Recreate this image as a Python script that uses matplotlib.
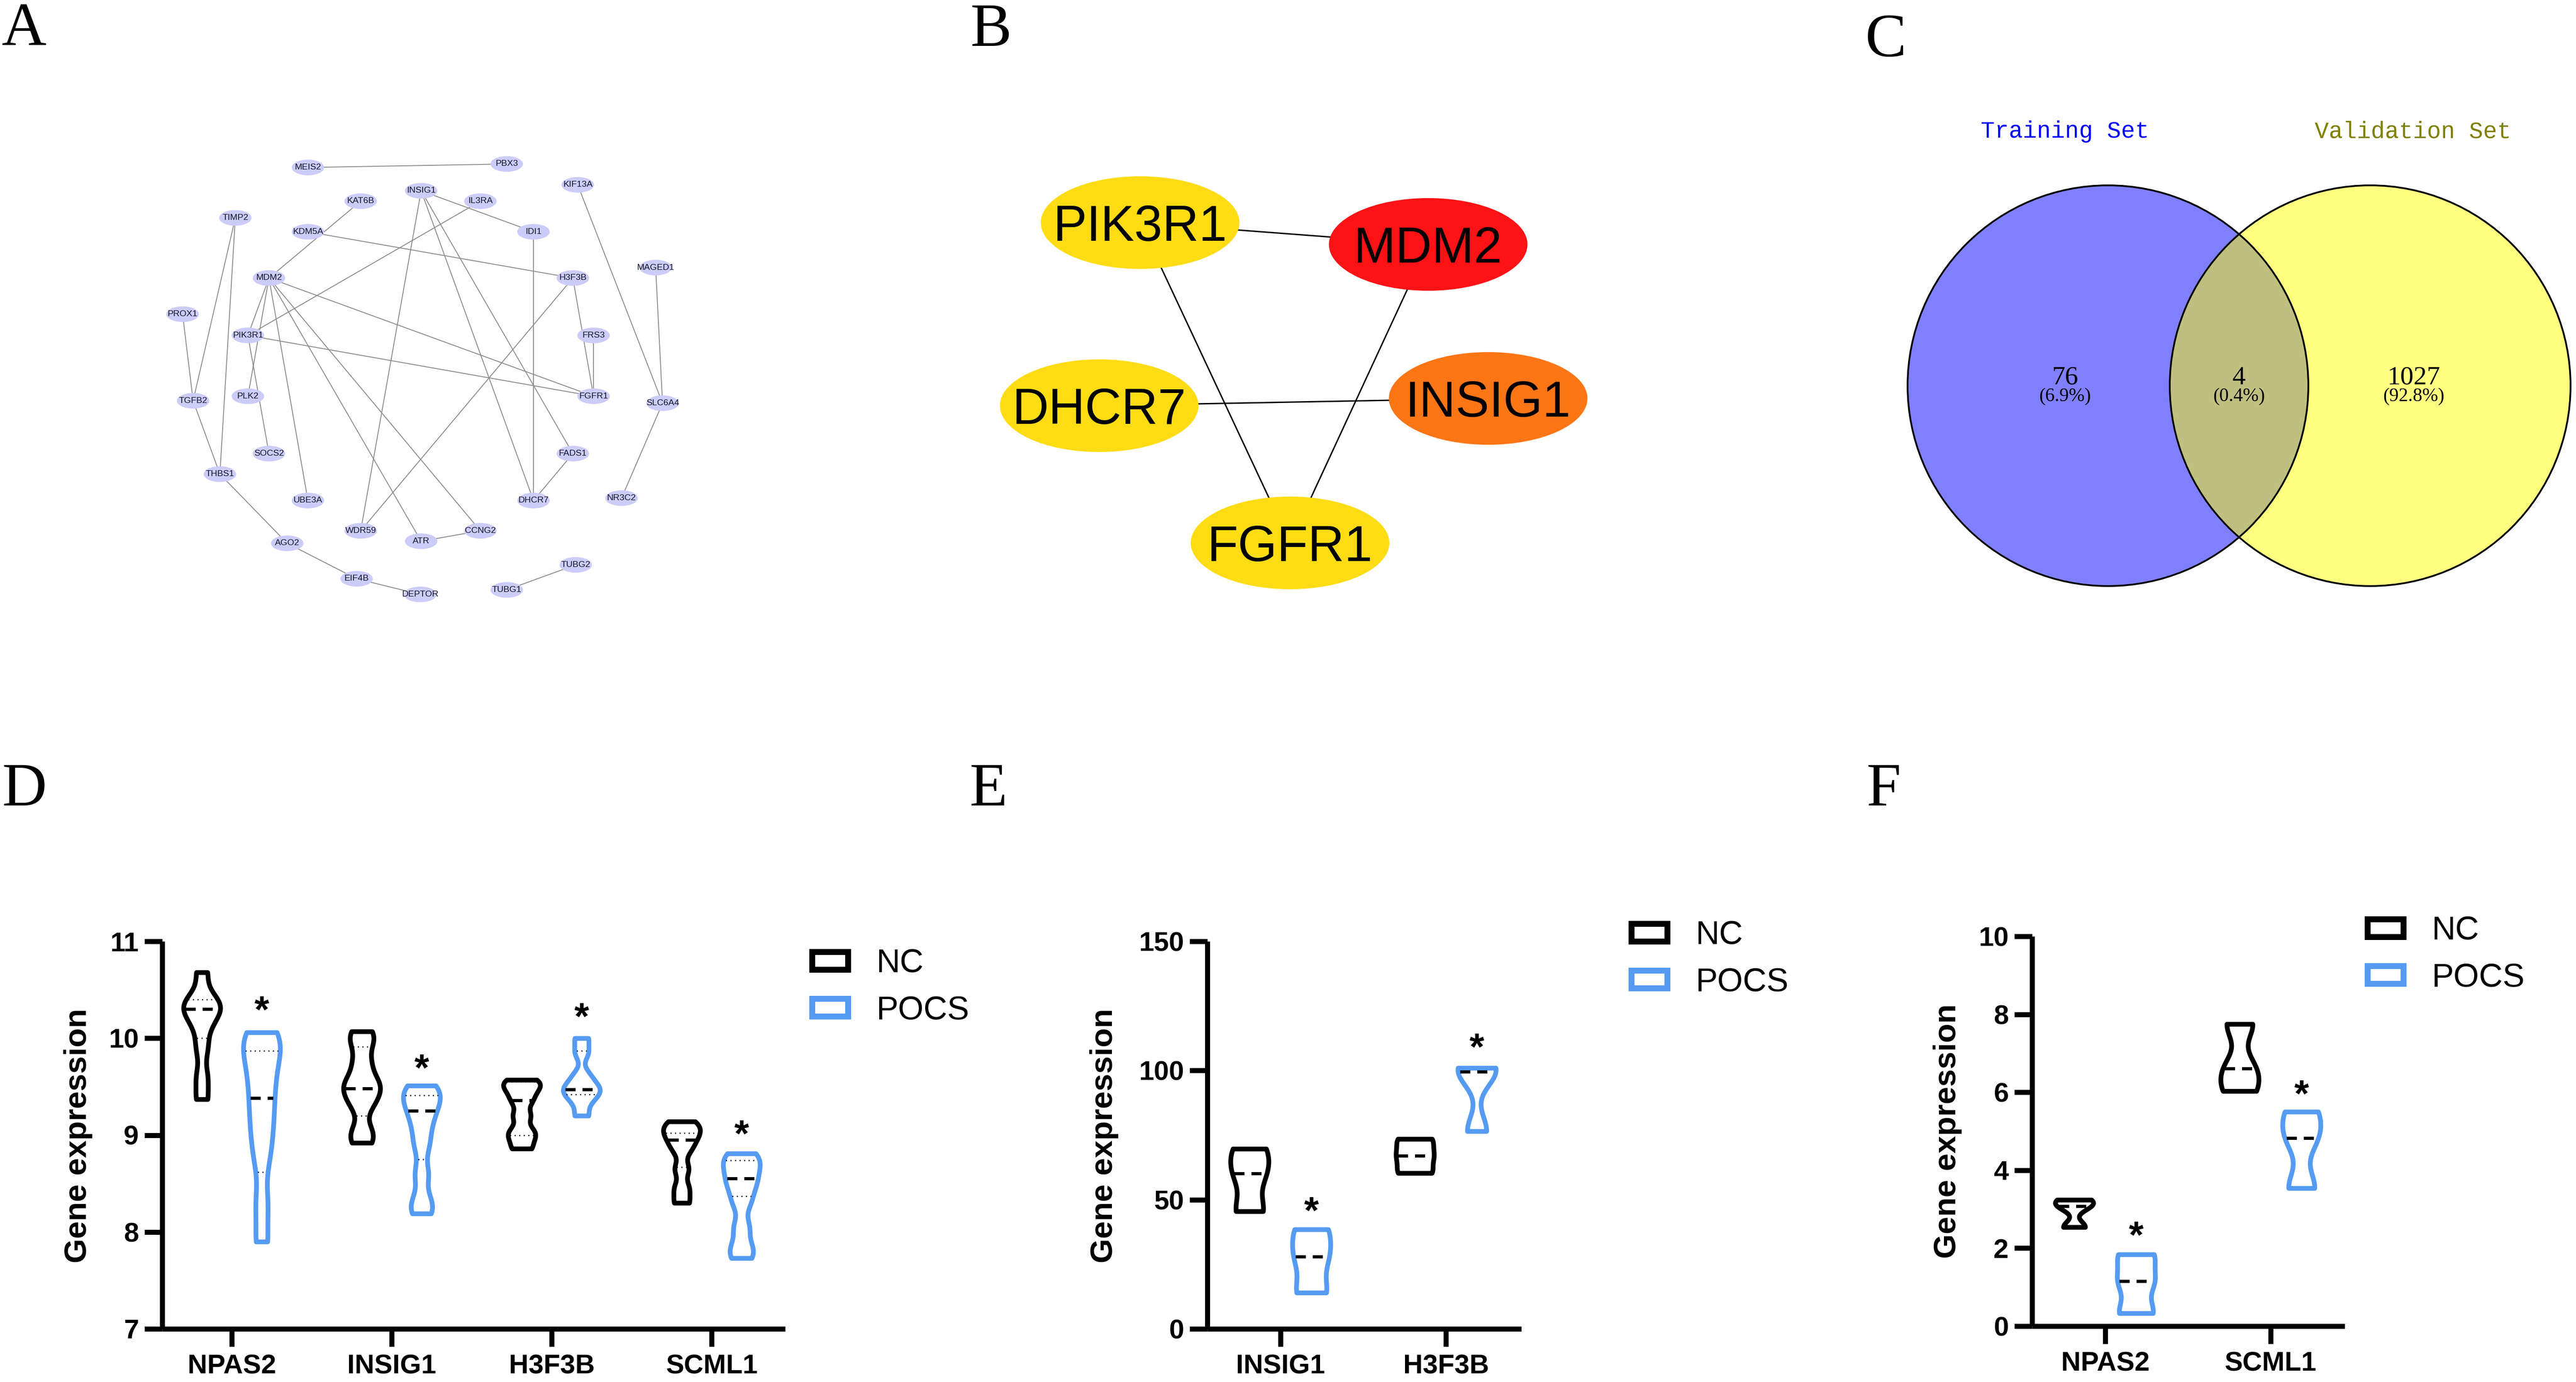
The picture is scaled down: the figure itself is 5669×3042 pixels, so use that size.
import numpy as np
import matplotlib
matplotlib.use("Agg")
import matplotlib.pyplot as plt
from matplotlib.patches import Ellipse, Circle, Patch

# figure size in pixels (dpi 100)
W, H = 5669, 3042
plt.rcParams['font.family'] = ['Liberation Sans', 'DejaVu Sans']

BLUE = '#559BF2'

# ---------------- A: PPI network (layout) ----------------
net_names = ['MEIS2', 'PBX3', 'INSIG1', 'IL3RA', 'KAT6B', 'KIF13A', 'TIMP2', 'KDM5A',
             'IDI1', 'MAGED1', 'MDM2', 'H3F3B', 'PROX1', 'PIK3R1', 'FRS3', 'PLK2',
             'TGFB2', 'FGFR1', 'SLC6A4', 'SOCS2', 'FADS1', 'THBS1', 'UBE3A', 'DHCR7',
             'NR3C2', 'WDR59', 'CCNG2', 'ATR', 'AGO2', 'TUBG2', 'EIF4B', 'TUBG1', 'DEPTOR']
net_x = [423, 913, 702, 848, 553, 1088, 244, 423, 979, 1280, 327, 1076, 114, 275, 1127,
         275, 140, 1127, 1297, 327, 1076, 206, 423, 979, 1196, 553, 848, 702, 372, 1083,
         543, 913, 700]
net_y = [155, 145, 222, 252, 252, 205, 300, 340, 340, 443, 473, 473, 577, 638, 638,
         813, 826, 813, 833, 978, 978, 1037, 1113, 1113, 1106, 1200, 1200, 1230, 1236,
         1298, 1338, 1370, 1383]
net_edges = [('MEIS2', 'PBX3'), ('INSIG1', 'IDI1'), ('INSIG1', 'WDR59'), ('INSIG1', 'DHCR7'),
             ('INSIG1', 'FADS1'), ('IL3RA', 'PIK3R1'), ('KAT6B', 'MDM2'), ('KDM5A', 'H3F3B'),
             ('IDI1', 'DHCR7'), ('KIF13A', 'SLC6A4'), ('MAGED1', 'SLC6A4'), ('NR3C2', 'SLC6A4'),
             ('MDM2', 'PIK3R1'), ('MDM2', 'PLK2'), ('PIK3R1', 'SOCS2'), ('MDM2', 'UBE3A'),
             ('MDM2', 'ATR'), ('MDM2', 'CCNG2'), ('MDM2', 'FGFR1'), ('PIK3R1', 'FGFR1'),
             ('H3F3B', 'WDR59'), ('H3F3B', 'FGFR1'), ('FRS3', 'FGFR1'), ('FADS1', 'DHCR7'),
             ('TIMP2', 'TGFB2'), ('TIMP2', 'THBS1'), ('PROX1', 'TGFB2'), ('TGFB2', 'THBS1'),
             ('THBS1', 'AGO2'), ('AGO2', 'EIF4B'), ('EIF4B', 'DEPTOR'), ('ATR', 'CCNG2'),
             ('TUBG1', 'TUBG2')]

# ---------------- B: hub genes ----------------
hub_names = ['PIK3R1', 'MDM2', 'DHCR7', 'INSIG1', 'FGFR1']
hub_x = [2509, 3143, 2419, 3275, 2839]
hub_y = [490, 538, 893, 877, 1195]
hub_colors = ['#FEDC14', '#FD1216', '#FEDC14', '#FD7616', '#FEDC14']
hub_edges = [('PIK3R1', 'MDM2'), ('PIK3R1', 'FGFR1'), ('DHCR7', 'INSIG1'), ('MDM2', 'FGFR1')]

# ---------------- C: Venn ----------------
venn_sets = ['Training Set', 'Validation Set']
venn_counts = [76, 4, 1027]   # only training, both, only validation

# ---------------- D: training set violins ----------------
d_genes = ['NPAS2', 'INSIG1', 'H3F3B', 'SCML1']
d_nc = [[9.37, 9.60, 9.90, 10.12, 10.25, 10.30, 10.36, 10.42, 10.68],
        [8.92, 9.05, 9.30, 9.42, 9.50, 9.58, 9.75, 9.95, 10.07],
        [8.86, 8.97, 9.05, 9.20, 9.35, 9.45, 9.52, 9.57],
        [8.30, 8.45, 8.65, 8.85, 8.95, 9.02, 9.08, 9.14]]
d_pocs = [[7.90, 8.30, 8.75, 9.00, 9.20, 9.40, 9.58, 9.75, 9.90, 10.00, 10.06],
          [8.19, 8.32, 8.60, 8.90, 9.10, 9.25, 9.35, 9.44, 9.51],
          [9.20, 9.35, 9.43, 9.47, 9.52, 9.62, 9.85, 10.00],
          [7.73, 7.85, 8.05, 8.30, 8.45, 8.55, 8.65, 8.74, 8.81]]
d_med_nc = [10.30, 9.48, 9.36, 8.95]
d_med_pocs = [9.38, 9.25, 9.47, 8.55]
d_q1_nc = [10.00, 9.20, 9.00, 8.67]
d_q3_nc = [10.40, 9.91, 9.55, 9.02]
d_q1_pocs = [8.62, 8.75, 9.42, 8.37]
d_q3_pocs = [9.87, 9.41, 9.87, 8.74]
d_star = [10.38, 9.78, 10.31, 9.10]

# ---------------- E ----------------
e_genes = ['INSIG1', 'H3F3B']
e_nc = [[45.5, 60.2, 69.7], [60.3, 67.0, 73.5]]
e_pocs = [[14.0, 27.9, 38.5], [76.5, 99.6, 101.0]]
e_med_nc = [60.2, 67.0]
e_med_pocs = [27.9, 99.6]
e_star = [49.0, 112.3]

# ---------------- F ----------------
f_genes = ['NPAS2', 'SCML1']
f_nc = [[2.54, 3.08, 3.24], [6.03, 6.61, 7.75]]
f_pocs = [[0.33, 1.15, 1.84], [3.54, 4.83, 5.50]]
f_med_nc = [3.08, 6.61]
f_med_pocs = [1.15, 4.83]
f_star = [2.55, 6.18]


fig = plt.figure(figsize=(W / 100, H / 100), dpi=100)


def add_axes_px(x0, y0, x1, y1):
    return fig.add_axes([x0 / W, 1 - y1 / H, (x1 - x0) / W, (y1 - y0) / H])


def kde_stats(samples, factor, n=300):
    s = np.asarray(samples, dtype=float)
    h = factor * (s.max() - s.min())
    coords = np.linspace(s.min(), s.max(), n)
    vals = np.exp(-0.5 * ((coords[:, None] - s[None, :]) / h) ** 2).sum(axis=1)
    return dict(coords=coords, vals=vals, mean=s.mean(), median=np.median(s),
                min=s.min(), max=s.max(), quantiles=[])


# ---- panel letters
for lab, lx, ly in [('A', 4, 99), ('B', 2135, 101), ('C', 4104, 124),
                    ('D', 4, 1773), ('E', 2133, 1773), ('F', 4107, 1773)]:
    fig.text(lx / W, 1 - ly / H, lab, family='Liberation Serif', fontsize=98,
             ha='left', va='baseline')

# ---- A
axa = add_axes_px(300, 250, 1700, 1450)
axa.set_xlim(0, 1568)
axa.set_ylim(1568, 0)
axa.axis('off')
idx = {n: i for i, n in enumerate(net_names)}
for a, b in net_edges:
    axa.plot([net_x[idx[a]], net_x[idx[b]]], [net_y[idx[a]], net_y[idx[b]]],
             color='#8a8a8a', lw=1.4, zorder=1)
for n, x, y in zip(net_names, net_x, net_y):
    axa.add_patch(Ellipse((x, y), 80, 45, fc='#CCCCF8', ec='none', zorder=2))
    axa.text(x, y, n, fontsize=14, ha='center', va='center', color='#14142a', zorder=3)

# ---- B
axb = add_axes_px(2150, 250, 3600, 1700)
axb.set_xlim(2150, 3600)
axb.set_ylim(1700, 250)
axb.axis('off')
hidx = {n: i for i, n in enumerate(hub_names)}
for a, b in hub_edges:
    axb.plot([hub_x[hidx[a]], hub_x[hidx[b]]], [hub_y[hidx[a]], hub_y[hidx[b]]],
             color='black', lw=2.2, zorder=1)
for n, x, y, c in zip(hub_names, hub_x, hub_y, hub_colors):
    axb.add_patch(Ellipse((x, y), 437, 204, fc=c, ec='none', zorder=2))
    axb.text(x, y + 0.358 * 80 * 100 / 72, n, fontsize=80, ha='center', va='baseline',
             color='black', zorder=3)

# ---- C
axc = add_axes_px(4100, 150, 5669, 1350)
axc.set_xlim(4100, 5669)
axc.set_ylim(1350, 150)
axc.axis('off')
r = 441
cl, cr = (4639, 849), (5216, 849)
axc.add_patch(Circle(cl, r, fc='#8080FF', ec='none', zorder=1))
axc.add_patch(Circle(cr, r, fc='#FFFF80', ec='none', zorder=1))
lens = Circle(cr, r, fc='#BFBF80', ec='none', zorder=2)
axc.add_patch(lens)
lens.set_clip_path(Circle(cl, r, transform=axc.transData))
axc.add_patch(Circle(cl, r, fc='none', ec='black', lw=2.8, zorder=3))
axc.add_patch(Circle(cr, r, fc='none', ec='black', lw=2.8, zorder=3))
total = sum(venn_counts)
for cnt, x in zip(venn_counts, [4544, 4927, 5312]):
    axc.text(x, 846, str(cnt), family='Liberation Serif', fontsize=42,
             ha='center', va='baseline', zorder=4)
    axc.text(x, 883, '(%.1f%%)' % (100 * cnt / total), family='Liberation Serif',
             fontsize=30, ha='center', va='baseline', zorder=4)
axc.text(4544, 290, venn_sets[0], family='Liberation Mono', fontsize=37,
         color='#0000FF', ha='center', va='center')
axc.text(5310, 290, venn_sets[1], family='Liberation Mono', fontsize=37,
         color='#808000', ha='center', va='center')


# ---- D/E/F violin panels
def violin_panel(box, genes, nc, pocs, med_nc, med_pocs, stars, ylim, yticks,
                 xlim, bwf, ylab_xy, leg_xy, q1_nc=None, q3_nc=None,
                 q1_pocs=None, q3_pocs=None):
    ax = add_axes_px(*box)
    width = 0.23
    off = 0.187
    for i in range(len(genes)):
        groups = [(nc[i], 'black', -off, med_nc[i],
                   None if q1_nc is None else (q1_nc[i], q3_nc[i])),
                  (pocs[i], BLUE, off, med_pocs[i],
                   None if q1_pocs is None else (q1_pocs[i], q3_pocs[i]))]
        for samples, col, dx, med, qs in groups:
            st = kde_stats(samples, bwf)
            vp = ax.violin([st], positions=[i + dx], widths=width,
                           showextrema=False)
            body = vp['bodies'][0]
            body.set_facecolor('white')
            body.set_edgecolor(col)
            body.set_alpha(1)
            body.set_linewidth(7.5)
            body.set_joinstyle('round')
            body.set_clip_on(False)
            body.set_zorder(2)
            scale = 0.5 * width / st['vals'].max()
            wm = np.interp(med, st['coords'], st['vals']) * scale - 0.012
            ax.hlines(med, i + dx - wm, i + dx + wm, colors='black', lw=5,
                      linestyles=(0, (3.2, 2.2)), zorder=3)
            if qs is not None:
                for q in qs:
                    wq = np.interp(q, st['coords'], st['vals']) * scale - 0.012
                    if wq > 0.004:
                        ax.hlines(q, i + dx - wq, i + dx + wq, colors='black',
                                  lw=1.8, linestyles=(0, (1, 3)), zorder=3)
        ax.annotate('*', (i + off, stars[i]), xytext=(0, -0.56 * 60),
                    textcoords='offset points', ha='center', va='baseline',
                    fontsize=60, fontweight='bold')
    ax.set_xlim(*xlim)
    ax.set_ylim(*ylim)
    ax.set_yticks(yticks)
    ax.set_xticks(np.arange(len(genes)))
    ax.set_xticklabels(genes)
    for s in ['top', 'right']:
        ax.spines[s].set_visible(False)
    for s in ['left', 'bottom']:
        ax.spines[s].set_linewidth(8)
        ax.spines[s].set_capstyle('butt')
    ax.tick_params(axis='both', direction='out', length=28, width=8,
                   labelsize=43)
    ax.tick_params(axis='y', pad=9)
    ax.tick_params(axis='x', pad=12)
    for t in ax.get_xticklabels() + ax.get_yticklabels():
        t.set_fontweight('bold')
    fig.text(ylab_xy[0] / W, 1 - ylab_xy[1] / H, 'Gene expression', rotation=90,
             ha='center', va='center', fontsize=50, fontweight='bold')
    handles = [Patch(facecolor='white', edgecolor='black', lw=9.4, label='NC'),
               Patch(facecolor='white', edgecolor=BLUE, lw=9.4, label='POCS')]
    ax.legend(handles=handles, loc='center left',
              bbox_to_anchor=(leg_xy[0] / W, 1 - leg_xy[1] / H),
              bbox_transform=fig.transFigure, frameon=False, fontsize=52,
              handlelength=1.1, handleheight=0.46, handletextpad=0.85,
              labelspacing=0.5, borderpad=0, borderaxespad=0)
    return ax


violin_panel((357, 2072, 1728, 2925), d_genes, d_nc, d_pocs, d_med_nc, d_med_pocs,
             d_star, (7, 11), [7, 8, 9, 10, 11], (-0.435, 3.46), 0.09,
             (172, 2500), (1787, 2173), d_q1_nc, d_q3_nc, d_q1_pocs, d_q3_pocs)
violin_panel((2657, 2072, 3348, 2925), e_genes, e_nc, e_pocs, e_med_nc, e_med_pocs,
             e_star, (0, 150), [0, 50, 100, 150], (-0.442, 1.456), 0.25,
             (2430, 2500), (3590, 2111))
violin_panel((4472, 2061, 5160, 2919), f_genes, f_nc, f_pocs, f_med_nc, f_med_pocs,
             f_star, (0, 10), [0, 2, 4, 6, 8, 10], (-0.442, 1.448), 0.22,
             (4286, 2490), (5210, 2101))

fig.savefig('out.png', dpi=100, facecolor='white')
